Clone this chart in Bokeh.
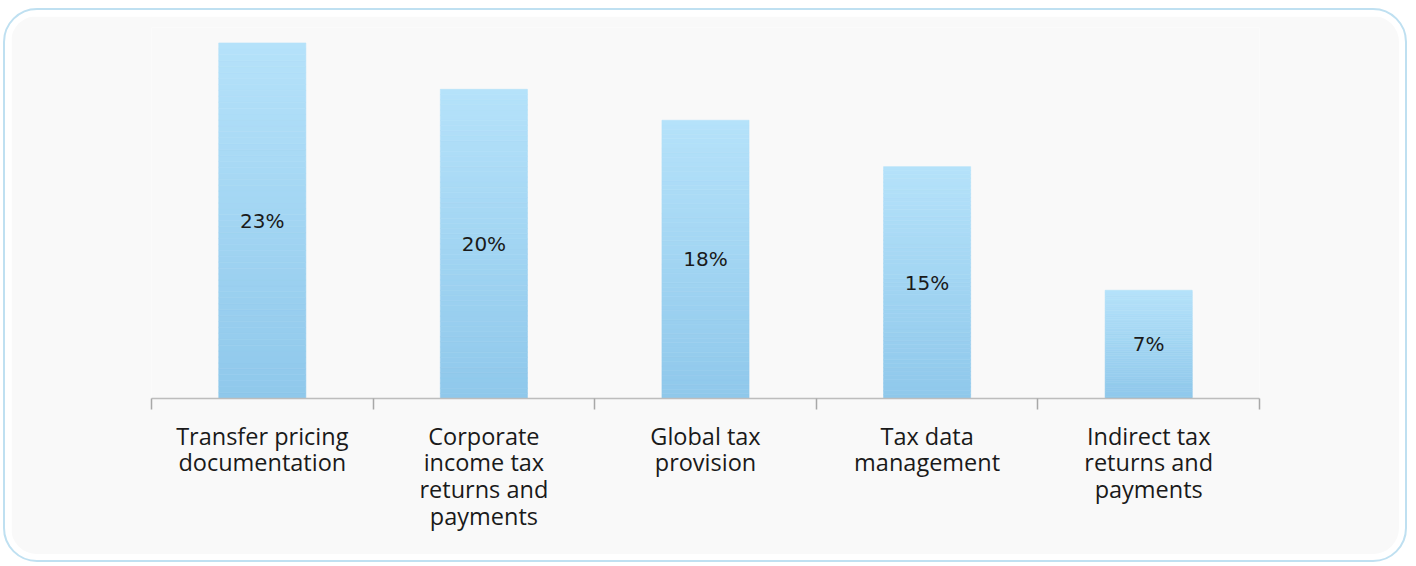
from bokeh.plotting import figure
from bokeh.models import Range1d, FixedTicker, ColumnDataSource
from bokeh.layouts import column
from bokeh.core.properties import value
from bokeh.embed import file_html
from bokeh.resources import INLINE

categories = [
    "Transfer pricing\ndocumentation",
    "Corporate\nincome tax\nreturns and\npayments",
    "Global tax\nprovision",
    "Tax data\nmanagement",
    "Indirect tax\nreturns and\npayments",
]
values = [23, 20, 18, 15, 7]
value_labels = ["23%", "20%", "18%", "15%", "7%"]

n = len(categories)
centers = [i + 0.5 for i in range(n)]

p = figure(
    width=1388, height=538,
    x_range=Range1d(0, n), y_range=Range1d(0, 24),
    output_backend="svg", toolbar_location=None,
    min_border_left=140, min_border_right=140,
    min_border_top=11, min_border_bottom=156,
)
p.background_fill_color = "#f9f9f9"
p.border_fill_color = "#f9f9f9"
p.outline_line_color = None
p.xgrid.visible = False
p.ygrid.visible = False
p.yaxis.visible = False

# gradient bars: light at top, darker at bottom (per-bar)
top_rgb = (0xB5, 0xE2, 0xFA)
bot_rgb = (0x8F, 0xC8, 0xEB)
N = 60
xs, bots, tops, cols = [], [], [], []
for c, v in zip(centers, values):
    for k in range(N):
        f = (k + 0.5) / N
        r = round(bot_rgb[0] + (top_rgb[0] - bot_rgb[0]) * f)
        g = round(bot_rgb[1] + (top_rgb[1] - bot_rgb[1]) * f)
        b = round(bot_rgb[2] + (top_rgb[2] - bot_rgb[2]) * f)
        xs.append(c)
        bots.append(v * k / N)
        tops.append(v * (k + 1) / N)
        cols.append("#%02x%02x%02x" % (r, g, b))
src = ColumnDataSource(dict(x=xs, bottom=bots, top=tops, color=cols))
p.vbar(x="x", bottom="bottom", top="top", width=0.393, source=src,
       fill_color="color", line_color="color", line_width=0.6)

lab = ColumnDataSource(dict(x=centers, y=[v / 2 for v in values], t=value_labels))
p.text(x="x", y="y", text="t", source=lab, text_align="center",
       text_baseline="middle", text_font=value("DejaVu Sans"),
       text_font_size="20px", text_color="#1a1a1a")

ax = p.xaxis[0]
ax.ticker = FixedTicker(ticks=centers, minor_ticks=list(range(n + 1)))
ax.major_label_overrides = {c: lbl for c, lbl in zip(centers, categories)}
ax.axis_line_color = "#bdbdbd"
ax.axis_line_width = 1.5
ax.major_tick_line_color = None
ax.major_tick_out = 0
ax.major_tick_in = 0
ax.minor_tick_line_color = "#a8a8a8"
ax.minor_tick_line_width = 1.5
ax.minor_tick_out = 11
ax.minor_tick_in = 0
ax.major_label_standoff = 10
ax.major_label_text_font = "Open Sans"
ax.major_label_text_font_size = "23.5px"
ax.major_label_text_color = "#1a1a1a"
ax.major_label_text_line_height = 0.84

p.styles = {"border-radius": "26px", "overflow": "hidden"}

layout = column(p, styles={
    "border": "2px solid #bfe0f1",
    "border-radius": "34px",
    "padding": "6px",
    "background-color": "white",
    "margin-left": "3px",
    "margin-top": "8px",
})

open("out.html", "w").write(file_html(layout, INLINE))
